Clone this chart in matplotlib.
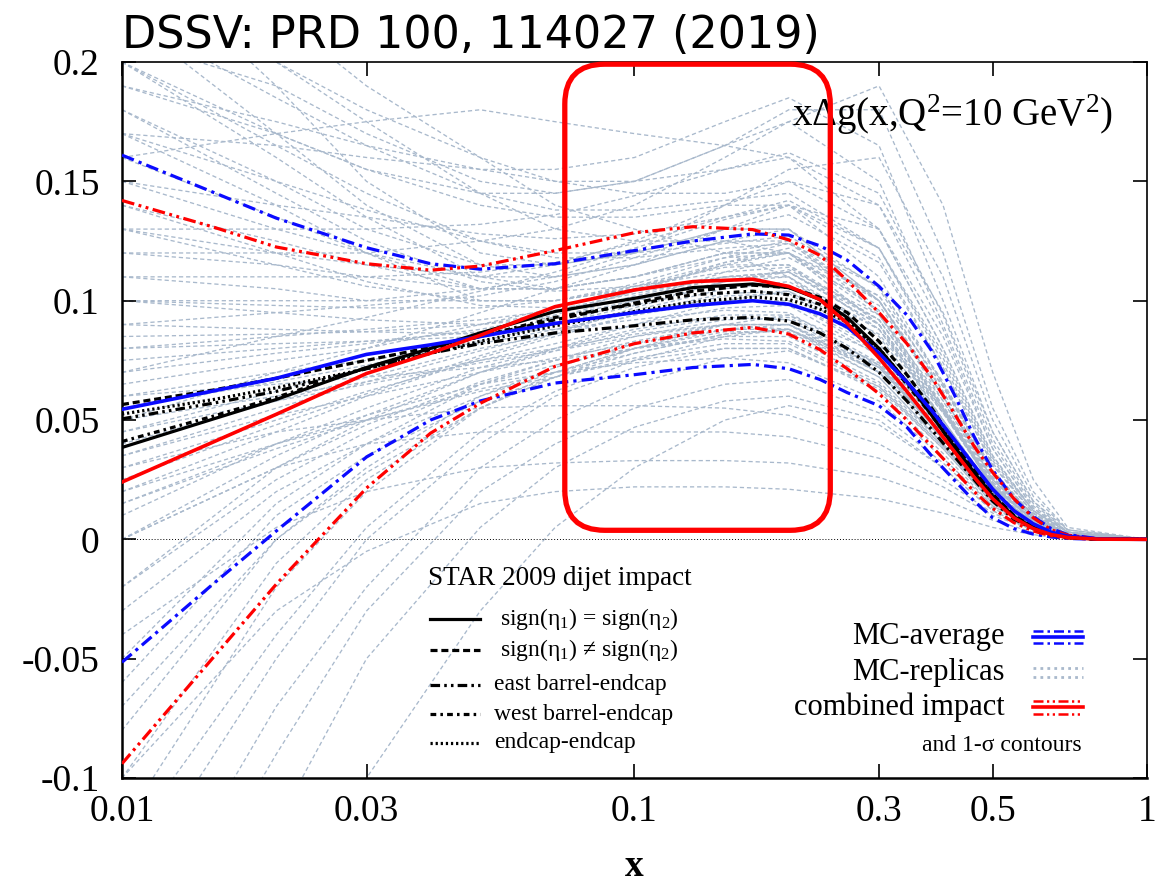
import numpy as np
import matplotlib
matplotlib.use('Agg')
import matplotlib.pyplot as plt
from matplotlib.patches import FancyBboxPatch
from matplotlib.lines import Line2D

plt.rcParams['font.family'] = ['Liberation Serif', 'DejaVu Serif']
plt.rcParams['mathtext.fontset'] = 'custom'
plt.rcParams['mathtext.rm'] = 'Liberation Serif'
plt.rcParams['mathtext.it'] = 'Liberation Serif'
plt.rcParams['mathtext.bf'] = 'Liberation Serif:bold'

# ---------------- data ----------------
x_main = [0.01, 0.015, 0.02, 0.03, 0.04, 0.05, 0.07, 0.1, 0.13, 0.17, 0.2, 0.23, 0.26,
          0.3, 0.34, 0.38, 0.42, 0.46, 0.5, 0.55, 0.6, 0.65, 0.7, 0.8, 1.0]

mc_average = [0.0545, 0.0621, 0.0675, 0.0775, 0.0815, 0.085, 0.0905, 0.095, 0.098, 0.100, 0.0985, 0.0945, 0.089,
              0.078, 0.066, 0.054, 0.042, 0.031, 0.021, 0.012, 0.0065, 0.003, 0.0013, 0.0002, 0.0]
mc_upper = [0.161, 0.1456, 0.1346, 0.1222, 0.1155, 0.1132, 0.1155, 0.121, 0.125, 0.128, 0.1275, 0.123, 0.117,
            0.106, 0.094, 0.079, 0.061, 0.043, 0.029, 0.017, 0.0095, 0.0045, 0.002, 0.0003, 0.0]
mc_lower = [-0.0515, -0.019, 0.0035, 0.0345, 0.050, 0.058, 0.0655, 0.069, 0.072, 0.0733, 0.0715, 0.067, 0.0615,
            0.056, 0.047, 0.035, 0.025, 0.016, 0.009, 0.0045, 0.0022, 0.001, 0.0004, 0.0, 0.0]

comb_central = [0.024, 0.0406, 0.0524, 0.0695, 0.078, 0.0855, 0.0975, 0.1045, 0.108, 0.109, 0.106, 0.1005, 0.0905,
                0.076, 0.062, 0.049, 0.037, 0.026, 0.017, 0.009, 0.0045, 0.002, 0.0008, 0.0001, 0.0]
comb_upper = [0.142, 0.131, 0.1225, 0.1155, 0.1128, 0.1145, 0.121, 0.1285, 0.131, 0.1298, 0.1255, 0.119, 0.1085,
              0.095, 0.082, 0.068, 0.053, 0.039, 0.028, 0.017, 0.009, 0.004, 0.0018, 0.0002, 0.0]
comb_lower = [-0.094, -0.050, -0.0188, 0.0215, 0.0445, 0.057, 0.0725, 0.082, 0.0865, 0.0888, 0.086, 0.0795, 0.0715,
              0.061, 0.050, 0.039, 0.029, 0.020, 0.013, 0.007, 0.0035, 0.0015, 0.0006, 0.0001, 0.0]

star_same_sign = [0.0385, 0.0503, 0.0586, 0.072, 0.080, 0.0865, 0.0955, 0.101, 0.1055, 0.107, 0.1055, 0.1005, 0.093,
                  0.080, 0.066, 0.052, 0.039, 0.028, 0.018, 0.0095, 0.005, 0.0022, 0.0009, 0.0001, 0.0]
star_opp_sign = [0.0565, 0.0625, 0.0675, 0.075, 0.0805, 0.085, 0.092, 0.099, 0.104, 0.1065, 0.1055, 0.1015, 0.095,
                 0.083, 0.069, 0.055, 0.041, 0.029, 0.019, 0.010, 0.0052, 0.0023, 0.0009, 0.0001, 0.0]
star_east = [0.0505, 0.057, 0.062, 0.0715, 0.078, 0.082, 0.0865, 0.0895, 0.092, 0.093, 0.0915, 0.0865, 0.080,
             0.070, 0.058, 0.046, 0.035, 0.025, 0.016, 0.0085, 0.0045, 0.002, 0.0008, 0.0001, 0.0]
star_west = [0.041, 0.0515, 0.0595, 0.072, 0.0795, 0.085, 0.093, 0.0985, 0.1025, 0.104, 0.1025, 0.0985, 0.092,
             0.079, 0.065, 0.052, 0.039, 0.028, 0.018, 0.0095, 0.005, 0.0022, 0.0009, 0.0001, 0.0]
star_endcap = [0.0525, 0.0585, 0.0635, 0.0715, 0.078, 0.083, 0.0895, 0.0955, 0.0995, 0.1015, 0.1005, 0.0965, 0.091,
               0.080, 0.066, 0.053, 0.040, 0.029, 0.0185, 0.0098, 0.005, 0.0022, 0.0009, 0.0001, 0.0]

x_replica = [0.01, 0.02, 0.03, 0.05, 0.07, 0.1, 0.15, 0.2, 0.3, 0.4, 0.5, 0.6, 0.7, 1.0]
replicas = [
    [0.25, 0.19, 0.15, 0.12, 0.115, 0.12, 0.13, 0.13, 0.10, 0.06, 0.025, 0.009, 0.002, 0],
    [0.22, 0.17, 0.14, 0.115, 0.11, 0.115, 0.125, 0.125, 0.095, 0.055, 0.022, 0.008, 0.002, 0],
    [0.20, 0.16, 0.135, 0.11, 0.105, 0.11, 0.12, 0.12, 0.09, 0.05, 0.02, 0.007, 0.001, 0],
    [0.18, 0.15, 0.13, 0.115, 0.115, 0.12, 0.13, 0.13, 0.10, 0.058, 0.024, 0.008, 0.002, 0],
    [0.17, 0.14, 0.12, 0.10, 0.10, 0.105, 0.115, 0.115, 0.088, 0.05, 0.02, 0.007, 0.001, 0],
    [0.16, 0.135, 0.12, 0.105, 0.105, 0.11, 0.12, 0.12, 0.094, 0.055, 0.022, 0.008, 0.002, 0],
    [0.19, 0.17, 0.155, 0.14, 0.135, 0.135, 0.14, 0.14, 0.11, 0.065, 0.028, 0.010, 0.002, 0],
    [0.23, 0.20, 0.175, 0.145, 0.13, 0.125, 0.125, 0.12, 0.09, 0.05, 0.02, 0.007, 0.001, 0],
    [0.15, 0.13, 0.12, 0.11, 0.11, 0.115, 0.125, 0.13, 0.105, 0.062, 0.026, 0.009, 0.002, 0],
    [0.14, 0.125, 0.115, 0.105, 0.105, 0.11, 0.118, 0.12, 0.096, 0.056, 0.023, 0.008, 0.002, 0],
    [0.21, 0.19, 0.17, 0.15, 0.145, 0.15, 0.165, 0.175, 0.15, 0.09, 0.04, 0.014, 0.003, 0],
    [0.26, 0.22, 0.19, 0.16, 0.14, 0.13, 0.12, 0.11, 0.08, 0.045, 0.018, 0.006, 0.001, 0],
    [0.13, 0.12, 0.115, 0.11, 0.115, 0.125, 0.14, 0.15, 0.13, 0.08, 0.035, 0.012, 0.003, 0],
    [0.17, 0.165, 0.16, 0.155, 0.155, 0.16, 0.175, 0.185, 0.165, 0.10, 0.045, 0.016, 0.004, 0],
    [0.12, 0.115, 0.11, 0.105, 0.105, 0.11, 0.12, 0.125, 0.10, 0.06, 0.025, 0.009, 0.002, 0],
    [-0.12, -0.02, 0.02, 0.055, 0.07, 0.08, 0.087, 0.087, 0.068, 0.04, 0.016, 0.006, 0.001, 0],
    [-0.08, 0.0, 0.03, 0.06, 0.072, 0.082, 0.09, 0.09, 0.07, 0.042, 0.017, 0.006, 0.001, 0],
    [-0.05, 0.015, 0.04, 0.065, 0.075, 0.085, 0.092, 0.093, 0.073, 0.044, 0.018, 0.006, 0.001, 0],
    [-0.15, -0.05, 0.0, 0.04, 0.06, 0.072, 0.08, 0.08, 0.062, 0.036, 0.014, 0.005, 0.001, 0],
    [-0.02, 0.025, 0.045, 0.065, 0.073, 0.08, 0.085, 0.085, 0.066, 0.04, 0.016, 0.006, 0.001, 0],
    [0.0, 0.03, 0.048, 0.066, 0.075, 0.083, 0.09, 0.09, 0.07, 0.042, 0.017, 0.006, 0.001, 0],
    [-0.2, -0.09, -0.03, 0.02, 0.04, 0.055, 0.065, 0.067, 0.053, 0.032, 0.013, 0.005, 0.001, 0],
    [-0.25, -0.12, -0.05, 0.005, 0.03, 0.047, 0.058, 0.06, 0.05, 0.03, 0.012, 0.004, 0.001, 0],
    [-0.3, -0.18, -0.1, -0.03, 0.005, 0.03, 0.05, 0.056, 0.048, 0.03, 0.012, 0.004, 0.001, 0],
    [-0.1, -0.01, 0.025, 0.055, 0.068, 0.078, 0.086, 0.088, 0.07, 0.042, 0.017, 0.006, 0.001, 0],
    [-0.06, 0.01, 0.035, 0.058, 0.068, 0.076, 0.082, 0.082, 0.064, 0.038, 0.015, 0.005, 0.001, 0],
    [0.03, 0.05, 0.062, 0.075, 0.082, 0.09, 0.097, 0.098, 0.077, 0.046, 0.019, 0.007, 0.001, 0],
    [0.02, 0.045, 0.06, 0.076, 0.085, 0.094, 0.102, 0.103, 0.08, 0.048, 0.02, 0.007, 0.001, 0],
    [0.01, 0.04, 0.055, 0.072, 0.08, 0.088, 0.094, 0.094, 0.073, 0.043, 0.017, 0.006, 0.001, 0],
    [0.04, 0.058, 0.068, 0.08, 0.086, 0.094, 0.1, 0.1, 0.078, 0.046, 0.019, 0.007, 0.001, 0],
    [0.06, 0.07, 0.075, 0.082, 0.088, 0.095, 0.103, 0.104, 0.082, 0.05, 0.021, 0.007, 0.001, 0],
    [0.08, 0.082, 0.083, 0.085, 0.09, 0.098, 0.108, 0.11, 0.088, 0.053, 0.022, 0.008, 0.001, 0],
    [0.1, 0.095, 0.092, 0.09, 0.093, 0.1, 0.11, 0.112, 0.09, 0.054, 0.022, 0.008, 0.002, 0],
    [0.05, 0.06, 0.066, 0.075, 0.08, 0.086, 0.09, 0.088, 0.068, 0.04, 0.016, 0.006, 0.001, 0],
    [0.07, 0.078, 0.082, 0.088, 0.094, 0.104, 0.116, 0.12, 0.1, 0.062, 0.027, 0.009, 0.002, 0],
    [0.015, 0.04, 0.052, 0.065, 0.07, 0.074, 0.076, 0.074, 0.058, 0.034, 0.014, 0.005, 0.001, 0],
    [0.09, 0.088, 0.087, 0.086, 0.088, 0.092, 0.096, 0.095, 0.074, 0.044, 0.018, 0.006, 0.001, 0],
    [0.0, 0.03, 0.04, 0.045, 0.045, 0.045, 0.045, 0.043, 0.034, 0.022, 0.01, 0.004, 0.001, 0],
    [-0.04, 0.005, 0.02, 0.03, 0.032, 0.033, 0.033, 0.032, 0.026, 0.017, 0.008, 0.003, 0.001, 0],
    [0.03, 0.045, 0.05, 0.055, 0.056, 0.056, 0.055, 0.052, 0.04, 0.025, 0.011, 0.004, 0.001, 0],
    [-0.1, -0.03, -0.005, 0.015, 0.02, 0.022, 0.022, 0.021, 0.017, 0.011, 0.005, 0.002, 0.0, 0],
    [0.2, 0.17, 0.155, 0.145, 0.145, 0.15, 0.165, 0.18, 0.18, 0.12, 0.055, 0.02, 0.004, 0],
    [0.12, 0.12, 0.12, 0.125, 0.13, 0.14, 0.16, 0.175, 0.19, 0.14, 0.07, 0.025, 0.005, 0],
    [0.1, 0.1, 0.1, 0.105, 0.11, 0.12, 0.14, 0.155, 0.16, 0.11, 0.05, 0.018, 0.004, 0],
    [0.16, 0.17, 0.175, 0.18, 0.175, 0.17, 0.165, 0.16, 0.13, 0.08, 0.035, 0.012, 0.002, 0],
    [0.24, 0.2, 0.18, 0.16, 0.15, 0.145, 0.145, 0.15, 0.14, 0.095, 0.045, 0.016, 0.003, 0],
    [0.05, 0.07, 0.08, 0.095, 0.105, 0.115, 0.13, 0.14, 0.13, 0.085, 0.038, 0.013, 0.003, 0],
    [0.11, 0.105, 0.1, 0.1, 0.1, 0.105, 0.11, 0.11, 0.085, 0.05, 0.02, 0.007, 0.001, 0],
    [0.065, 0.075, 0.08, 0.09, 0.097, 0.106, 0.114, 0.115, 0.092, 0.055, 0.023, 0.008, 0.002, 0],
    [0.045, 0.062, 0.072, 0.085, 0.093, 0.102, 0.11, 0.112, 0.09, 0.054, 0.022, 0.008, 0.002, 0],
    [0.035, 0.055, 0.066, 0.079, 0.087, 0.096, 0.105, 0.108, 0.088, 0.054, 0.023, 0.008, 0.002, 0],
    [0.025, 0.048, 0.061, 0.077, 0.086, 0.097, 0.108, 0.113, 0.094, 0.058, 0.025, 0.009, 0.002, 0],
    [0.055, 0.066, 0.073, 0.083, 0.09, 0.1, 0.112, 0.118, 0.098, 0.06, 0.026, 0.009, 0.002, 0],
    [0.085, 0.086, 0.087, 0.09, 0.095, 0.104, 0.115, 0.12, 0.102, 0.064, 0.028, 0.01, 0.002, 0],
    [0.075, 0.08, 0.083, 0.087, 0.09, 0.095, 0.1, 0.1, 0.08, 0.048, 0.02, 0.007, 0.001, 0],
    [0.035, 0.052, 0.06, 0.07, 0.076, 0.082, 0.088, 0.088, 0.07, 0.042, 0.017, 0.006, 0.001, 0],
    [-0.03, 0.02, 0.04, 0.06, 0.07, 0.08, 0.088, 0.09, 0.074, 0.046, 0.019, 0.007, 0.001, 0],
    [-0.07, 0.0, 0.028, 0.055, 0.068, 0.08, 0.09, 0.094, 0.078, 0.048, 0.02, 0.007, 0.001, 0],
    [0.13, 0.115, 0.106, 0.1, 0.1, 0.106, 0.116, 0.122, 0.102, 0.064, 0.028, 0.01, 0.002, 0],
    [0.14, 0.12, 0.108, 0.098, 0.097, 0.1, 0.108, 0.112, 0.092, 0.056, 0.024, 0.008, 0.002, 0],
    [0.18, 0.145, 0.125, 0.108, 0.104, 0.106, 0.112, 0.114, 0.092, 0.055, 0.023, 0.008, 0.002, 0],
    [0.2, 0.165, 0.145, 0.125, 0.118, 0.118, 0.122, 0.124, 0.1, 0.06, 0.025, 0.009, 0.002, 0],
    [0.15, 0.14, 0.135, 0.128, 0.126, 0.128, 0.135, 0.14, 0.118, 0.072, 0.031, 0.011, 0.002, 0],
    [0.11, 0.11, 0.11, 0.112, 0.116, 0.124, 0.135, 0.142, 0.122, 0.076, 0.033, 0.012, 0.003, 0],
    [0.09, 0.095, 0.098, 0.102, 0.108, 0.118, 0.13, 0.136, 0.116, 0.072, 0.031, 0.011, 0.002, 0],
    [0.0, 0.035, 0.052, 0.07, 0.08, 0.09, 0.1, 0.104, 0.086, 0.053, 0.022, 0.008, 0.002, 0],
    [-0.02, 0.03, 0.05, 0.07, 0.079, 0.087, 0.093, 0.092, 0.072, 0.043, 0.017, 0.006, 0.001, 0],
    [0.02, 0.04, 0.05, 0.062, 0.068, 0.075, 0.08, 0.08, 0.063, 0.038, 0.015, 0.005, 0.001, 0],
    [0.06, 0.065, 0.068, 0.072, 0.075, 0.08, 0.084, 0.083, 0.065, 0.039, 0.016, 0.005, 0.001, 0],
    [-0.13, -0.04, 0.005, 0.045, 0.062, 0.075, 0.085, 0.088, 0.072, 0.044, 0.018, 0.006, 0.001, 0],
    [-0.18, -0.07, -0.02, 0.03, 0.05, 0.065, 0.076, 0.079, 0.064, 0.039, 0.016, 0.005, 0.001, 0],
    [0.19, 0.175, 0.165, 0.155, 0.15, 0.15, 0.155, 0.16, 0.14, 0.088, 0.038, 0.013, 0.003, 0],
    [0.22, 0.185, 0.165, 0.145, 0.138, 0.138, 0.142, 0.145, 0.122, 0.074, 0.032, 0.011, 0.002, 0],
    [0.13, 0.13, 0.13, 0.132, 0.136, 0.144, 0.155, 0.162, 0.145, 0.094, 0.042, 0.015, 0.003, 0],
    [0.07, 0.085, 0.093, 0.104, 0.112, 0.122, 0.134, 0.14, 0.122, 0.078, 0.034, 0.012, 0.003, 0],
    [0.045, 0.058, 0.065, 0.074, 0.079, 0.085, 0.09, 0.09, 0.072, 0.043, 0.018, 0.006, 0.001, 0],
    [0.015, 0.038, 0.05, 0.063, 0.07, 0.078, 0.086, 0.088, 0.073, 0.045, 0.019, 0.007, 0.001, 0],
    [0.1, 0.098, 0.097, 0.097, 0.1, 0.107, 0.118, 0.124, 0.106, 0.066, 0.029, 0.01, 0.002, 0],
    [0.17, 0.15, 0.138, 0.125, 0.12, 0.12, 0.124, 0.127, 0.106, 0.065, 0.028, 0.01, 0.002, 0],
    [0.08, 0.085, 0.088, 0.092, 0.096, 0.103, 0.11, 0.112, 0.09, 0.054, 0.022, 0.008, 0.002, 0],
]

x_ticks = [0.01, 0.03, 0.1, 0.3, 0.5, 1]
x_tick_labels = ['0.01', '0.03', '0.1', '0.3', '0.5', '1']
y_ticks = [-0.1, -0.05, 0, 0.05, 0.1, 0.15, 0.2]
y_tick_labels = ['-0.1', '-0.05', '0', '0.05', '0.1', '0.15', '0.2']

# ---------------- styles ----------------
BLUE = '#0a0aff'
RED = '#ff0000'
REP = '#a9b9cc'
LW = 2.3
ls_mc = (0, (4, 1.6, 1, 1.6))
ls_comb = (0, (4, 1.4, 0.9, 1.4, 0.9, 1.4))
ls_dash = (0, (2.2, 1.2))
ls_east = (0, (3, 1.3, 0.8, 1.3, 0.8, 1.3))
ls_west = (0, (1.8, 1.3, 0.8, 1.3))
ls_dot = (0, (0.7, 0.9))

fig = plt.figure(figsize=(11.55, 8.9), dpi=100)
ax = fig.add_axes([0.1056, 0.1258, 0.8875, 0.8045])

for r in replicas:
    ax.plot(x_replica, r, color=REP, lw=0.95, linestyle=(0, (3.2, 2.2)), zorder=1)

ax.axhline(0, color='black', lw=0.7, linestyle=(0, (1, 2)), zorder=2)

ax.plot(x_main, mc_upper, color=BLUE, lw=LW, linestyle=ls_mc, zorder=3)
ax.plot(x_main, mc_lower, color=BLUE, lw=LW, linestyle=ls_mc, zorder=3)
ax.plot(x_main, comb_upper, color=RED, lw=LW, linestyle=ls_comb, zorder=3)
ax.plot(x_main, comb_lower, color=RED, lw=LW, linestyle=ls_comb, zorder=3)

ax.plot(x_main, star_east, color='black', lw=LW, linestyle=ls_east, zorder=4)
ax.plot(x_main, star_west, color='black', lw=LW, linestyle=ls_west, zorder=4)
ax.plot(x_main, star_endcap, color='black', lw=LW, linestyle=ls_dot, zorder=4)
ax.plot(x_main, star_opp_sign, color='black', lw=LW, linestyle=ls_dash, zorder=4)
ax.plot(x_main, star_same_sign, color='black', lw=LW, linestyle='-', zorder=4)
ax.plot(x_main, mc_average, color=BLUE, lw=LW + 0.3, linestyle='-', zorder=5)
ax.plot(x_main, comb_central, color=RED, lw=LW + 0.3, linestyle='-', zorder=6)

ax.set_xscale('log')
ax.set_xlim(0.01, 1)
ax.set_ylim(-0.1, 0.2)
ax.set_xticks(x_ticks)
ax.set_xticklabels(x_tick_labels)
ax.set_yticks(y_ticks)
ax.set_yticklabels(y_tick_labels)
ax.xaxis.set_minor_locator(matplotlib.ticker.NullLocator())
ax.tick_params(axis='both', which='major', direction='in', length=10, width=1.2,
               top=True, right=True, labelsize=27)
ax.tick_params(axis='x', pad=12)
ax.tick_params(axis='y', pad=16)
for s in ax.spines.values():
    s.set_linewidth(1.2)
ax.spines['left'].set_linewidth(1.8)
ax.spines['bottom'].set_linewidth(1.8)

ax.set_xlabel('x', fontsize=27, fontweight='bold', labelpad=14)

# title
fig.text(0.1056, 0.946, 'DSSV: PRD 100, 114027 (2019)', family='DejaVu Sans',
         fontsize=32, ha='left', va='baseline')

# panel label
ax.text(0.967, 0.926, r'xΔg(x,Q$^{2}$=10 GeV$^{2}$)', transform=ax.transAxes,
        ha='right', va='center', fontsize=28)

# STAR legend
ax.text(0.2985, 0.279, 'STAR 2009 dijet impact', transform=ax.transAxes,
        ha='left', va='center', fontsize=19.5)
leg_rows = [
    (0.222, '-', r'sign($\eta_1$) = sign($\eta_2$)', 0.369),
    (0.179, ls_dash, r'sign($\eta_1$) ≠ sign($\eta_2$)', 0.369),
    (0.130, ls_east, 'east barrel-endcap', 0.363),
    (0.089, ls_west, 'west barrel-endcap', 0.363),
    (0.049, ls_dot, 'endcap-endcap', 0.363),
]
for yy, ls, lab, xt in leg_rows:
    ax.add_line(Line2D([0.3005, 0.3493], [yy, yy], transform=ax.transAxes,
                       color='black', lw=LW, linestyle=ls))
    ax.text(xt, yy, lab, transform=ax.transAxes, ha='left', va='center', fontsize=17)

# right legend
ax.text(0.8615, 0.197, 'MC-average', transform=ax.transAxes, ha='right', va='center', fontsize=22)
ax.text(0.8615, 0.148, 'MC-replicas', transform=ax.transAxes, ha='right', va='center', fontsize=22)
ax.text(0.8615, 0.099, 'combined impact', transform=ax.transAxes, ha='right', va='center', fontsize=22)
ax.text(0.9366, 0.046, 'and 1-σ contours', transform=ax.transAxes, ha='right', va='center', fontsize=17)
sx = [0.889, 0.9375]
d = 0.009
for yc, col, lsb in [(0.197, BLUE, ls_mc), (0.099, RED, ls_comb)]:
    ax.add_line(Line2D(sx, [yc + d, yc + d], transform=ax.transAxes, color=col, lw=1.8, linestyle=lsb))
    ax.add_line(Line2D(sx, [yc, yc], transform=ax.transAxes, color=col, lw=2.6, linestyle='-'))
    ax.add_line(Line2D(sx, [yc - d, yc - d], transform=ax.transAxes, color=col, lw=1.8, linestyle=lsb))
for yy in (0.148 + d * 0.7, 0.148 - d * 0.7):
    ax.add_line(Line2D(sx, [yy, yy], transform=ax.transAxes, color=REP, lw=2.0, linestyle=(0, (1, 1.5))))

# highlight box
W_px, H_px = 1025.0, 716.0
box = FancyBboxPatch((0.432, 0.346), 0.259, 0.651,
                     boxstyle='round,pad=0,rounding_size=0.039',
                     mutation_aspect=W_px / H_px, transform=ax.transAxes,
                     fill=False, ec=RED, lw=3.8, clip_on=False, zorder=10)
ax.add_patch(box)

fig.savefig('out.png', dpi=100)
